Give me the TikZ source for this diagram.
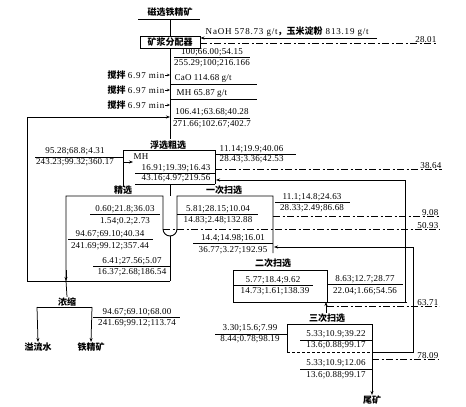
\documentclass[tikz,border=0pt]{standalone}
\usepackage{fontspec}
\setmainfont{Liberation Serif}[LetterSpace=2]
\newfontfamily\cjk{Noto Sans CJK SC}
\usetikzlibrary{arrows.meta}
\newcommand{\zh}[1]{{\cjk\bfseries #1}}
\begin{document}
\begin{tikzpicture}[x=1pt,y=-1pt,
  every node/.style={inner sep=0.5pt,font=\fontsize{9}{10}\selectfont},
  lbl/.style={font=\fontsize{9}{10}\selectfont\cjk\bfseries},
  ln/.style={line width=0.75pt},
  bx/.style={line width=0.9pt},
  dd/.style={line width=0.8pt,dash pattern=on 7pt off 2.5pt on 2pt off 2.5pt},
  arr/.style={-{Stealth[length=4pt,width=3pt]}},
  num/.style={anchor=south}]
\useasboundingbox (0,0) rectangle (466,407);
% top
\node[lbl] (feed) at (170,12) {磁选铁精矿};
\draw[ln] (138,19) -- (200,19);
\node[draw,bx,lbl,minimum width=60pt,minimum height=12pt,inner sep=1pt] (dist) at (170,42) {矿浆分配器};
\draw[ln] (170,19) -- (dist.north);
\coordinate (r1) at (377,38);
\draw[ln,arr] (r1) -- (dist.east |- r1);
\node[anchor=south west] (naoh) at (205,37) {\addfontfeature{LetterSpace=9}NaOH 578.73 g/t\zh{，玉米淀粉} 813.19 g/t};
\coordinate (w1) at (437,43);
\draw[dd] (dist.east |- w1) -- (w1);
\node[anchor=south east] (n2801) at (w1) {28.01};
% main vertical
\coordinate (v1) at (170,139);
\draw[ln] (dist.south) -- (v1);
\node (a1) at (212,52.5) {100;66.00;54.15};
\draw[ln] (174,57.5) -- (250,57.5);
\node (a2) at (212,63.5) {255.29;100;216.166};
% stirring
\foreach \yy/\nm in {75/s1,90/s2,105/s3}{
  \node[anchor=east] (\nm) at (165,\yy) {\zh{搅拌} \addfontfeature{LetterSpace=8}6.97 min};
  \draw[ln,-{Stealth[length=3pt,width=2.5pt]}] (\nm.east) -- (170,\yy);
}
\node[anchor=south west] (cao) at (174,83) {CaO 114.68 g/t};
\draw[ln] (170,84) -- (257,84);
\node[anchor=south west] (mh1) at (176,98) {MH 65.87 g/t};
\draw[ln] (170,99) -- (257,99);
\node (b1) at (212,112) {106.41;63.68;40.28};
\draw[ln] (174,118) -- (250,118);
\node (b2) at (212,124) {271.66;102.67;402.7};
% return loop
\coordinate (L1) at (27,117);
\coordinate (L2) at (27,281);
\coordinate (L3) at (170,281);
\draw[ln,arr] (L2) -- (L1) -- (170,117);
\draw[ln] (L2) -- (L3);
% rougher
\node[lbl] (rough) at (168,145) {浮选粗选};
\draw[bx] (123,187) -- (123,150) -- (215,150) -- (215,184);
\draw[ln] (135,184) -- (215,184);
\draw[ln] (135,173) -- (215,173);
\node[anchor=west] (mh2) at (133,157) {MH};
\draw[ln,arr] (123,162) -- (133,162);
\node (c1) at (176,168) {16.91;19.39;16.43};
\node (c2) at (176,178.5) {43.16;4.97;219.56};
\node (d1) at (75,151) {95.28;68.8;4.31};
\draw[ln] (35,157) -- (123,157);
\node (d2) at (75,162) {243.23;99.32;360.17};
\node[anchor=west] (e1) at (219,149) {11.14;19.9;40.06};
\draw[ln] (216,154) -- (296,154);
\node[anchor=west] (e2) at (219,159) {28.43;3.36;42.53};
\coordinate (w2) at (442,169);
\draw[dd] (215,169) -- (w2);
\node[anchor=south east] (n3864) at (w2) {38.64};
% return line to rougher
\coordinate (R1) at (405,180);
\coordinate (R2) at (405,302);
\draw[ln,arr] (R2) -- (R1) -- (216,180);
% cleaner and scav1 channel
\draw[ln] (170,184) -- (170,196);
\node[lbl] (clean) at (123,190) {精选};
\draw[bx] (66,281) -- (66,196) -- (163,196) -- (163,229) arc[start angle=180,end angle=360,radius=7pt] -- (177,196) -- (273,196) -- (273,253);
\draw[ln] (170,236) -- (L3);
\draw[ln,arr] (66,270) -- (66,281);
\node (f1) at (125,209) {0.60;21.8;36.03};
\draw[ln] (90,214) -- (160,214);
\node (f2) at (125,221) {1.54;0.2;2.73};
\node (f3) at (110,234) {94.67;69.10;40.34};
\draw[ln] (68,239) -- (153,239);
\node (f4) at (110,246) {241.69;99.12;357.44};
\node (f5) at (132,261) {6.41;27.56;5.07};
\draw[ln] (93,266) -- (170,266);
\node (f6) at (132,272) {16.37;2.68;186.54};
% scav 1
\node[lbl] (sc1) at (224,190) {一次扫选};
\node (g1) at (218,209) {5.81;28.15;10.04};
\draw[ln] (177,214) -- (258,214);
\node (g2) at (218,220) {14.83;2.48;132.88};
\node (g3) at (233,238) {14.4;14.98;16.01};
\draw[ln] (193,243) -- (273,243);
\node (g4) at (233,250) {36.77;3.27;192.95};
\node (h1) at (312,197) {11.1;14.8;24.63};
\draw[ln] (275,202) -- (350,202);
\node (h2) at (312,208) {28.33;2.49;86.68};
\coordinate (w3) at (439,216);
\draw[dd] (273,216) -- (w3);
\node[anchor=south east] (n908) at (w3) {9.08};
\coordinate (w4) at (439,229);
\draw[dd] (163,229) -- (w4);
\node[anchor=south east] (n5093) at (w4) {50.93};
\coordinate (Q1) at (413,353);
\coordinate (Q2) at (413,247);
\draw[ln,arr] (Q1) -- (Q2) -- (274,247);
% thickening
\node[lbl] (thick) at (67,302) {浓缩};
\draw[ln] (66,281) -- (thick.north);
\draw[ln] (37,307) -- (92,307);
\node[lbl] (ovf) at (38,347) {溢流水};
\node[lbl] (conc) at (91,347) {铁精矿};
\draw[ln,arr] (37,307) -- (ovf.north);
\draw[ln,arr] (92,307) -- (conc.north);
\node (k1) at (137,312) {94.67;69.10;68.00};
\draw[ln] (93,317) -- (180,317);
\node (k2) at (137,323) {241.69;99.12;113.74};
% scav 2
\node[lbl] (sc2) at (273,263) {二次扫选};
\draw[bx] (407,302) -- (233,302) -- (233,270) -- (327,270) -- (327,302);
\node (m1) at (273,280) {5.77;18.4;9.62};
\draw[ln] (233,285) -- (313,285);
\node (m2) at (275,291) {14.73;1.61;138.39};
\node (m3) at (365,279) {8.63;12.7;28.77};
\draw[ln] (327,284) -- (403,284);
\node (m4) at (365,291) {22.04;1.66;54.56};
\coordinate (w5) at (439,306);
\draw[dd] (327,306) -- (w5);
\node[anchor=south east] (n6371) at (w5) {63.71};
% scav 3
\node[lbl] (sc3) at (327,318) {三次扫选};
\draw[ln,arr] (sc3.north -| 326,0) -- (326,302);
\draw[bx] (287,352) -- (287,324) -- (372,324) -- (372,352) -- (413,352);
\draw[ln,densely dashed] (287,352) -- (372,352);
\node (p1) at (250,328) {3.30;15.6;7.99};
\draw[ln] (215,334) -- (287,334);
\node (p2) at (250,339) {8.44;0.78;98.19};
\node (p3) at (336,334.5) {5.33;10.9;39.22};
\draw[ln] (300,340) -- (372,340);
\node (p4) at (336,345.5) {13.6;0.88;99.17};
\node (p5) at (336,363.5) {5.33;10.9;12.06};
\draw[ln] (300,369) -- (372,369);
\node (p6) at (336,375.5) {13.6;0.88;99.17};
\node[lbl] (tail) at (372,400) {尾矿};
\draw[ln,arr] (372,352) -- (tail.north);
\coordinate (w6) at (439,359);
\draw[dd] (372,359) -- (w6);
\node[anchor=south east] (n7809) at (w6) {78.09};
\end{tikzpicture}
\end{document}
